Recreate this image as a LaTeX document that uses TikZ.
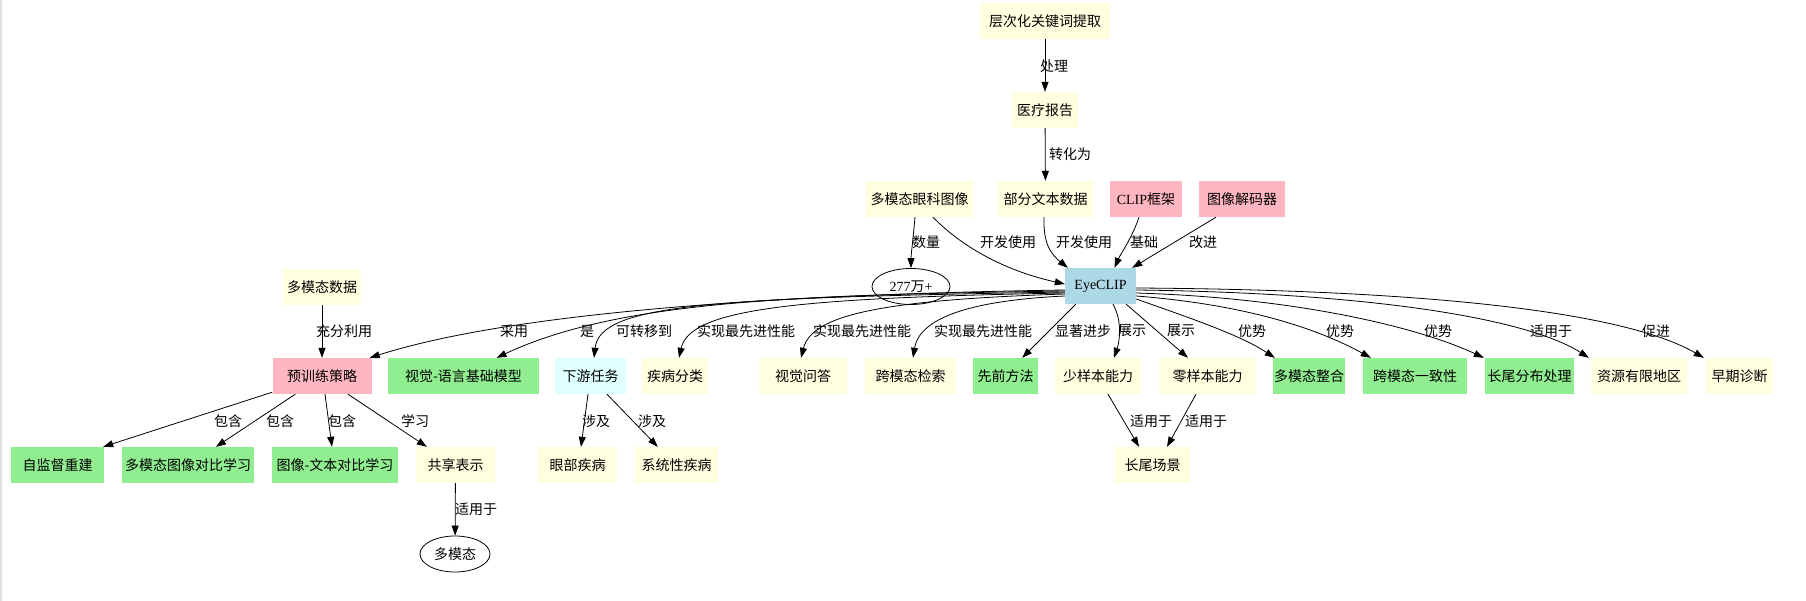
\documentclass[tikz,border=0pt]{standalone}
\usepackage{fontspec}
\setmainfont{Liberation Serif}
\newfontfamily\cjk{Noto Sans CJK SC}
\usetikzlibrary{arrows.meta,calc,shapes.geometric}
\definecolor{ly}{HTML}{FFFFE0}
\definecolor{lp}{HTML}{FFB6C1}
\definecolor{lg}{HTML}{90EE90}
\definecolor{lb}{HTML}{ADD8E6}
\definecolor{lc}{HTML}{E0FFFF}
\begin{document}
\begin{tikzpicture}[x=1pt,y=-1pt,
  box/.style={rectangle, minimum height=36pt, inner sep=0pt, font=\cjk\fontsize{14}{14}\selectfont},
  yb/.style={box, fill=ly},
  pb/.style={box, fill=lp},
  gb/.style={box, fill=lg},
  bb/.style={box, fill=lb},
  cb/.style={box, fill=lc},
  ell/.style={ellipse, draw, line width=0.8pt, minimum height=36pt, inner sep=0pt, font=\cjk\fontsize{14}{14}\selectfont},
  lbl/.style={inner sep=0pt, font=\cjk\fontsize{14}{14}\selectfont},
  arr/.style={-{Triangle[length=10pt,width=7pt]}, line width=0.8pt},
]
\useasboundingbox (0,0) rectangle (1806,601);
\fill[white] (0,0) rectangle (1806,601);
\fill[black!12] (0,0) rectangle (2,601);

% top nodes
\node[yb, minimum width=130pt] (kw) at (1045,21) {层次化关键词提取};
\node[yb, minimum width=66pt] (rep) at (1045,110) {医疗报告};
\node[yb, minimum width=107pt] (mimg) at (919.5,199) {多模态眼科图像};
\node[yb, minimum width=95pt] (part) at (1045.5,199) {部分文本数据};
\node[pb, minimum width=72pt] (clip) at (1146,199) {{\rmfamily CLIP}框架};
\node[pb, minimum width=86pt] (dec) at (1242,199) {图像解码器};
\node[bb, minimum width=71pt, font=\rmfamily\fontsize{14}{14}\selectfont] (eye) at (1100.5,286) {EyeCLIP};
\node[ell, minimum width=78pt] (num) at (911,286.5) {{\rmfamily 277}万{\rmfamily +}};
\node[yb, minimum width=78pt] (mdata) at (322,287) {多模态数据};

% row 2
\node[pb, minimum width=99pt] (ptr) at (322,376) {预训练策略};
\node[gb, minimum width=151pt] (vlm) at (463.5,376) {视觉-语言基础模型};
\node[cb, minimum width=71pt] (down) at (590.5,376) {下游任务};
\node[yb, minimum width=66pt] (cls) at (675,376) {疾病分类};
\node[yb, minimum width=88pt] (vqa) at (803,376) {视觉问答};
\node[yb, minimum width=91pt] (ret) at (910.5,376) {跨模态检索};
\node[gb, minimum width=65pt] (prev) at (1005.5,376) {先前方法};
\node[yb, minimum width=86pt] (few) at (1098,376) {少样本能力};
\node[yb, minimum width=97pt] (zero) at (1207.5,376) {零样本能力};
\node[gb, minimum width=72pt] (mint) at (1309,376) {多模态整合};
\node[gb, minimum width=104pt] (cons) at (1415,376) {跨模态一致性};
\node[gb, minimum width=89pt] (ltd) at (1529.5,376) {长尾分布处理};
\node[yb, minimum width=96pt] (res) at (1639,376) {资源有限地区};
\node[yb, minimum width=67pt] (early) at (1739.5,376) {早期诊断};

% row 3
\node[gb, minimum width=93pt] (ssr) at (57.5,465) {自监督重建};
\node[gb, minimum width=132pt] (mic) at (188,465) {多模态图像对比学习};
\node[gb, minimum width=126pt] (itc) at (335,465) {图像-文本对比学习};
\node[yb, minimum width=79pt] (shr) at (455.5,465) {共享表示};
\node[yb, minimum width=79pt] (eyed) at (577.5,465) {眼部疾病};
\node[yb, minimum width=83pt] (sysd) at (676.5,465) {系统性疾病};
\node[yb, minimum width=75pt] (lt) at (1152.5,465) {长尾场景};
\node[ell, minimum width=70pt] (mm) at (455,554) {多模态};

% top edges
\draw[arr] (kw) -- (rep);
\draw[arr] (rep) -- (part);
\draw[arr] ($(mimg.south)+(-4.5,0)$) .. controls (913,240) and (911,255) .. (num.north);
\draw[arr] ($(mimg.south)+(13.5,0)$) .. controls (965,250) and (1010,272) .. ($(eye.west)+(0,-2)$);
\draw[arr] ($(part.south)+(-1.5,0)$) .. controls (1043,245) and (1052,255) .. ($(eye.north west)+(3,0)$);
\draw[arr] ($(clip.south)+(-7,0)$) .. controls (1132,238) and (1120,255) .. ($(eye.north)+(14,0)$);
\draw[arr] ($(dec.south)+(-26,0)$) -- ($(eye.north east)+(-4,0)$);
\draw[arr] (mdata) -- (ptr);

% EyeCLIP to left
\draw[arr] ($(eye.west)+(0,4)$) .. controls (800,294) and (520,310) .. ($(ptr.north east)+(-2,0)$);
\draw[arr] ($(eye.west)+(0,5)$) .. controls (800,295) and (620,300) .. ($(vlm.north)+(33,0)$);
\draw[arr] ($(eye.west)+(0,6)$) .. controls (720,298) and (600,303) .. ($(down.north)+(3.5,0)$);
\draw[arr] ($(eye.west)+(0,7)$) .. controls (800,298) and (690,308) .. ($(cls.north)+(4,0)$);
\draw[arr] ($(eye.west)+(0,8)$) .. controls (880,300) and (812,315) .. ($(vqa.north)+(-2,0)$);
\draw[arr] ($(eye.west)+(0,10)$) .. controls (980,300) and (920,315) .. ($(ret.north)+(2.5,0)$);

% EyeCLIP down
\draw[arr] ($(eye.south west)+(11,0)$) -- ($(prev.north east)+(-16,0)$);
\draw[arr] ($(eye.south)+(12.5,0)$) .. controls (1122,320) and (1120,340) .. ($(few.north)+(16,0)$);
\draw[arr] ($(eye.south east)+(-10,0)$) -- ($(zero.north)+(-19.5,0)$);

% EyeCLIP to right
\draw[arr] ($(eye.east)+(0,13)$) .. controls (1190,318) and (1240,335) .. ($(mint.north west)+(2,0)$);
\draw[arr] ($(eye.east)+(0,10)$) .. controls (1250,305) and (1320,330) .. ($(cons.north west)+(8,0)$);
\draw[arr] ($(eye.east)+(0,7)$) .. controls (1300,298) and (1420,328) .. ($(ltd.north west)+(-1,0)$);
\draw[arr] ($(eye.east)+(0,4)$) .. controls (1380,293) and (1530,320) .. ($(res.north west)+(-2,0)$);
\draw[arr] ($(eye.east)+(0,2)$) .. controls (1450,290) and (1630,315) .. ($(early.north west)+(-2,0)$);

% lower edges
\draw[arr] ($(ptr.south west)+(0,-2)$) -- ($(ssr.north east)+(-1,0)$);
\draw[arr] ($(ptr.south west)+(23,0)$) -- ($(mic.north)+(28,0)$);
\draw[arr] ($(ptr.south)+(3,0)$) -- ($(itc.north)+(-3,0)$);
\draw[arr] ($(ptr.south)+(26,0)$) -- ($(shr.north west)+(11,0)$);
\draw[arr] (shr) -- (mm);
\draw[arr] ($(down.south)+(-2.5,0)$) -- ($(eyed.north)+(3.5,0)$);
\draw[arr] ($(down.south)+(16.5,0)$) -- ($(sysd.north west)+(23,0)$);
\draw[arr] ($(few.south)+(10,0)$) -- ($(lt.north)+(-13.5,0)$);
\draw[arr] ($(zero.south)+(-11.5,0)$) -- ($(lt.north)+(14.5,0)$);

% labels
\node[lbl] (l1) at (1054,66) {处理};
\node[lbl] (l2) at (1070,154) {转化为};
\node[lbl] (l3) at (926,242) {数量};
\node[lbl] (l4) at (1008,242) {开发使用};
\node[lbl] (l5) at (1084,242) {开发使用};
\node[lbl] (l6) at (1144,242) {基础};
\node[lbl] (l7) at (1203,242) {改进};
\node[lbl] (l8) at (344,331) {充分利用};
\node[lbl] (l9) at (514,331) {采用};
\node[lbl] (l10) at (587,331) {是};
\node[lbl] (l11) at (644,331) {可转移到};
\node[lbl] (l12) at (746,331) {实现最先进性能};
\node[lbl] (l13) at (862,331) {实现最先进性能};
\node[lbl] (l14) at (983,331) {实现最先进性能};
\node[lbl] (l15) at (1083,331) {显著进步};
\node[lbl] (l16) at (1132,331) {展示};
\node[lbl] (l17) at (1181,331) {展示};
\node[lbl] (l18) at (1252,331) {优势};
\node[lbl] (l19) at (1340,331) {优势};
\node[lbl] (l20) at (1438,331) {优势};
\node[lbl] (l21) at (1551,331) {适用于};
\node[lbl] (l22) at (1656,331) {促进};
\node[lbl] (l23) at (228,421) {包含};
\node[lbl] (l24) at (280,421) {包含};
\node[lbl] (l25) at (342,421) {包含};
\node[lbl] (l26) at (415,421) {学习};
\node[lbl] (l27) at (596,421) {涉及};
\node[lbl] (l28) at (652,421) {涉及};
\node[lbl] (l29) at (1151,421) {适用于};
\node[lbl] (l30) at (1206,421) {适用于};
\node[lbl] (l31) at (476,509) {适用于};
\end{tikzpicture}
\end{document}
